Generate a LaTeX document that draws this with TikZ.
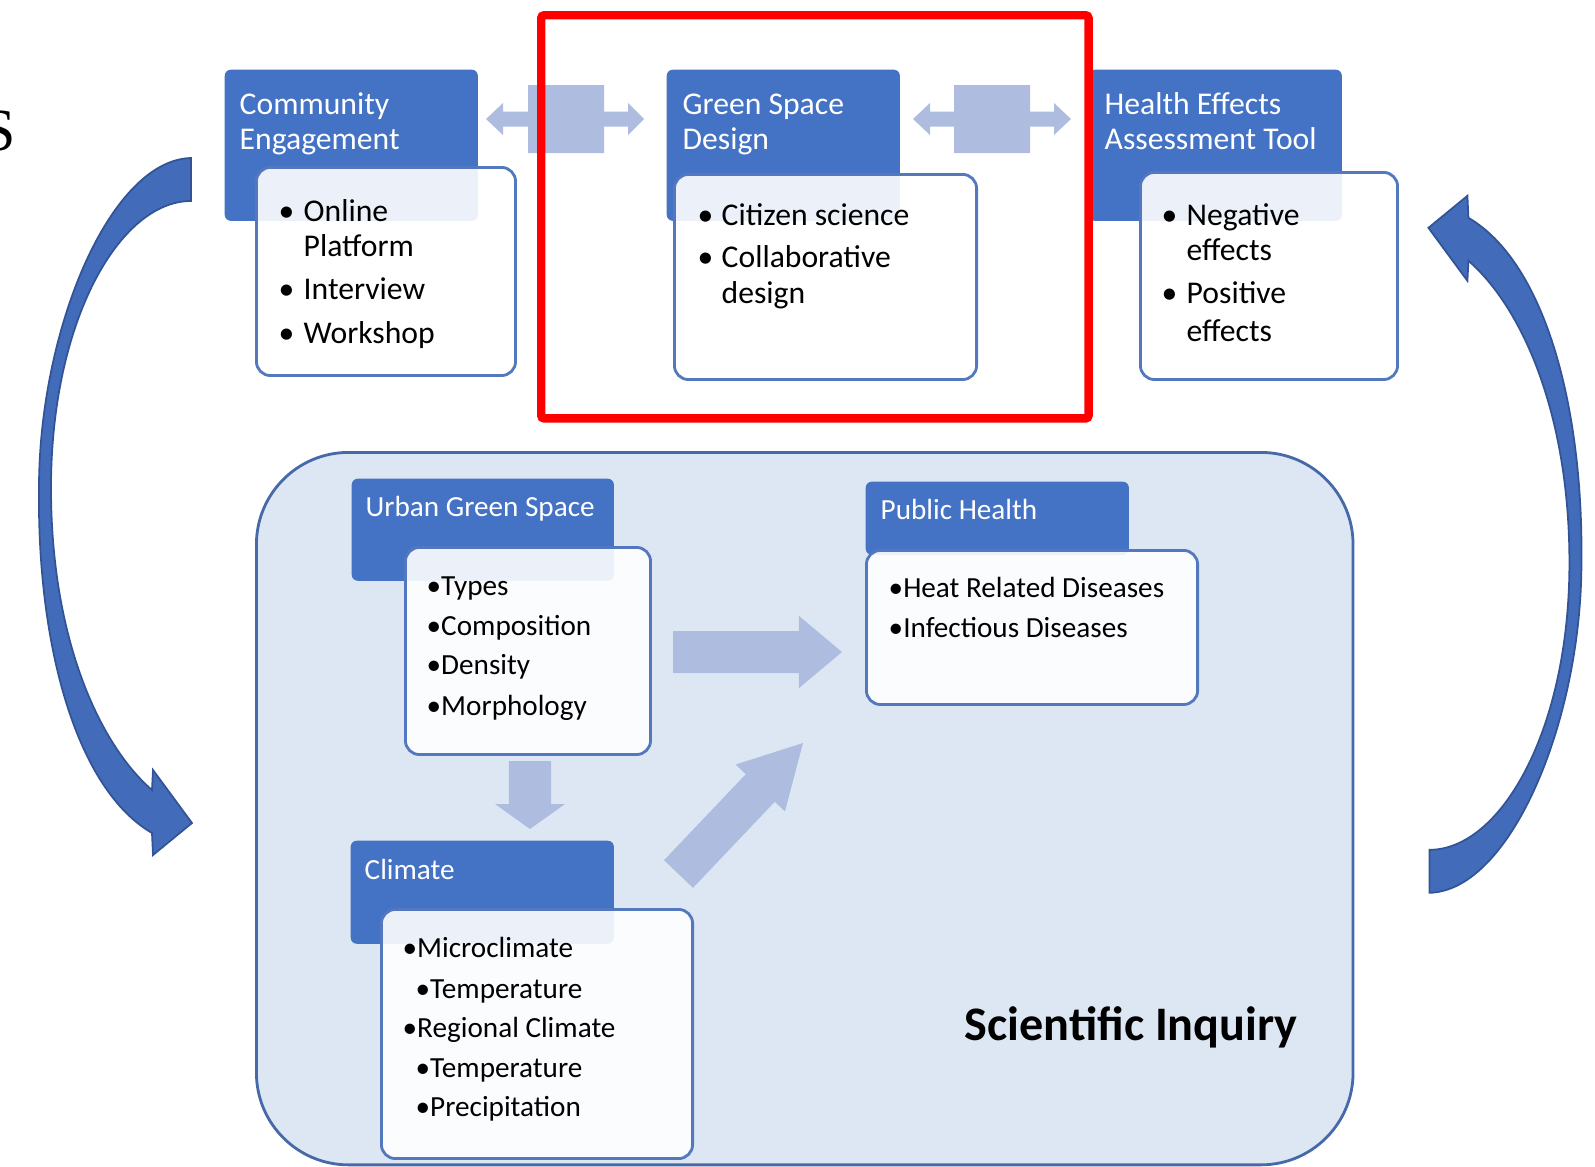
\documentclass[tikz,border=0pt]{standalone}
\usepackage{fontspec}
\setmainfont{Carlito}
\newfontfamily\serifS{Liberation Serif}
\usetikzlibrary{calc}
\definecolor{hdr}{RGB}{68,114,196}
\definecolor{bdr}{RGB}{84,120,190}
\definecolor{inq}{RGB}{221,231,243}
\definecolor{inqb}{RGB}{70,105,170}
\definecolor{larrow}{RGB}{174,188,223}
\definecolor{bigb}{RGB}{66,108,186}
\definecolor{bigbd}{RGB}{50,84,150}
\newcommand\bul[1]{\makebox[#1][l]{\textbullet}}
\newcommand\fatarrow[5]{%
  \coordinate (hb) at ($(#2)!#5!(#1)$);
  \fill[larrow] ($(#1)!#3!90:(#2)$) -- ($(hb)!#3!90:(#2)$) -- ($(hb)!#4!90:(#2)$) -- (#2)
    -- ($(hb)!#4!-90:(#2)$) -- ($(hb)!#3!-90:(#2)$) -- ($(#1)!#3!-90:(#2)$) -- cycle;}
\begin{document}
\begin{tikzpicture}[x=0.01cm,y=-0.01cm,
  hdrbox/.style={rectangle, rounded corners=0.06cm, fill=hdr, anchor=north west, inner sep=0pt},
  cbox/.style={rectangle, rounded corners=0.14cm, fill=white, fill opacity=0.9, draw=bdr, line width=0.8pt, anchor=north west, inner sep=0pt},
  htxt/.style={anchor=base west, inner sep=0pt, text=white, font=\fontsize{9}{10}\selectfont},
  btxt/.style={anchor=base west, inner sep=0pt, font=\fontsize{9}{10}\selectfont},
  lhtxt/.style={anchor=base west, inner sep=0pt, text=white, font=\fontsize{8.3}{10}\selectfont},
  lbtxt/.style={anchor=base west, inner sep=0pt, font=\fontsize{8.3}{10}\selectfont},
  bigarrow/.style={fill=bigb, draw=bigbd, line width=0.5pt}]
\useasboundingbox (0,0) rectangle (1595,1166);

% stray glyph at left edge
\node[anchor=base east, inner sep=0pt, font=\serifS\fontsize{17}{17}\selectfont] (sglyph) at (16,150) {S};

% scientific inquiry container
\node[rectangle, rounded corners=0.92cm, fill=inq, draw=inqb, line width=0.8pt, anchor=north west,
      minimum width=10.96cm, minimum height=7.12cm, inner sep=0pt] (inquiry) at (255,451) {};

% headers
\node[hdrbox, minimum width=2.53cm, minimum height=1.51cm] (hCE) at (224,69) {};
\node[hdrbox, minimum width=2.33cm, minimum height=1.51cm] (hGS) at (666,69) {};
\node[hdrbox, minimum width=2.53cm, minimum height=1.51cm] (hHE) at (1088,69) {};
\node[hdrbox, minimum width=2.62cm, minimum height=1.02cm] (hUG) at (351,478) {};
\node[hdrbox, minimum width=2.63cm, minimum height=0.73cm] (hPH) at (865,481) {};
\node[hdrbox, minimum width=2.63cm, minimum height=1.03cm] (hCL) at (350,840) {};

% content boxes
\node[cbox, minimum width=2.59cm, minimum height=2.08cm] (bCE) at (255,166) {};
\node[cbox, minimum width=3.02cm, minimum height=2.05cm] (bGS) at (673,173) {};
\node[cbox, minimum width=2.57cm, minimum height=2.07cm] (bHE) at (1139,171) {};
\node[cbox, minimum width=2.45cm, minimum height=2.07cm] (bUG) at (404,546) {};
\node[cbox, minimum width=3.31cm, minimum height=1.54cm] (bPH) at (865,549) {};
\node[cbox, minimum width=3.11cm, minimum height=2.49cm] (bCL) at (380,908) {};

% header texts
\node[htxt] (tCE1) at (239,114) {Community};
\node[htxt] (tCE2) at (239,149) {Engagement};
\node[htxt] (tGS1) at (682,114) {Green Space};
\node[htxt] (tGS2) at (682,149) {Design};
\node[htxt] (tHE1) at (1104,114) {Health Effects};
\node[htxt] (tHE2) at (1104,149) {Assessment Tool};
\node[lhtxt] (tUG) at (365,516) {Urban Green Space};
\node[lhtxt] (tPH) at (880,519) {Public Health};
\node[lhtxt] (tCL) at (364,879) {Climate};

% body texts (top)
\node[btxt] (cCE1) at (278,221) {\bul{0.25cm}Online};
\node[btxt] (cCE2) at (303,256) {Platform};
\node[btxt] (cCE3) at (278,299) {\bul{0.25cm}Interview};
\node[btxt] (cCE4) at (278,343) {\bul{0.25cm}Workshop};
\node[btxt] (cGS1) at (697,225) {\bul{0.24cm}Citizen science};
\node[btxt] (cGS2) at (697,267) {\bul{0.24cm}Collaborative};
\node[btxt] (cGS3) at (721,303) {design};
\node[btxt] (cHE1) at (1161,225) {\bul{0.25cm}Negative};
\node[btxt] (cHE2) at (1186,260) {effects};
\node[btxt] (cHE3) at (1161,303) {\bul{0.25cm}Positive};
\node[btxt] (cHE4) at (1186,341) {effects};

% body texts (bottom)
\node[lbtxt] (cUG1) at (426,595) {\textbullet Types};
\node[lbtxt] (cUG2) at (426,635) {\textbullet Composition};
\node[lbtxt] (cUG3) at (426,674) {\textbullet Density};
\node[lbtxt] (cUG4) at (426,715) {\textbullet Morphology};
\node[lbtxt] (cPH1) at (888,597) {\textbullet Heat Related Diseases};
\node[lbtxt] (cPH2) at (888,637) {\textbullet Infectious Diseases};
\node[lbtxt] (cCL1) at (402,957) {\textbullet Microclimate};
\node[lbtxt] (cCL2) at (415,998) {\textbullet Temperature};
\node[lbtxt] (cCL3) at (402,1037) {\textbullet Regional Climate};
\node[lbtxt] (cCL4) at (415,1077) {\textbullet Temperature};
\node[lbtxt] (cCL5) at (415,1116) {\textbullet Precipitation};

\node[anchor=base west, inner sep=0pt, font=\bfseries\fontsize{13.7}{15}\selectfont] (tSI) at (964,1040) {Scientific Inquiry};

% double arrows between top headers
\fill[larrow] (486,119) -- (503,103) -- (503,111.5) -- (528,111.5) -- (528,85) -- (604,85) -- (604,111.5)
  -- (628,111.5) -- (628,103) -- (644,119) -- (628,135) -- (628,126.5) -- (604,126.5) -- (604,153)
  -- (528,153) -- (528,126.5) -- (503,126.5) -- (503,135) -- cycle;
\fill[larrow] (913,119) -- (930,103) -- (930,111.5) -- (954,111.5) -- (954,85) -- (1030,85) -- (1030,111.5)
  -- (1054,111.5) -- (1054,103) -- (1071,119) -- (1054,135) -- (1054,126.5) -- (1030,126.5) -- (1030,153)
  -- (954,153) -- (954,126.5) -- (930,126.5) -- (930,135) -- cycle;

% block arrows inside inquiry
\coordinate (aRs) at (673,652); \coordinate (aRt) at (842,652);
\fatarrow{aRs}{aRt}{0.21cm}{0.36cm}{0.43cm}
\coordinate (aDs) at (530,761); \coordinate (aDt) at (530,829);
\fatarrow{aDs}{aDt}{0.21cm}{0.35cm}{0.25cm}
\coordinate (aGs) at (678.5,874); \coordinate (aGt) at (803,743);
\fatarrow{aGs}{aGt}{0.20cm}{0.34cm}{0.62cm}

% big curved arrows
\fill[bigarrow] (191,158) .. controls (110,160) and (39,330) .. (39,488)
  .. controls (37,650) and (78,790) .. (152,833) -- (153,855) -- (192,823) -- (153,770) -- (152,790)
  .. controls (100,745) and (51,640) .. (51,488) .. controls (51,320) and (120,201) .. (191,201) -- cycle;
\begin{scope}[rotate around={180:(810.2,525.4)}]
\fill[bigarrow] (191,158) .. controls (110,160) and (39,330) .. (39,488)
  .. controls (37,650) and (78,790) .. (152,833) -- (153,855) -- (192,823) -- (153,770) -- (152,790)
  .. controls (100,745) and (51,640) .. (51,488) .. controls (51,320) and (120,201) .. (191,201) -- cycle;
\end{scope}

% red highlight frame
\node[rectangle, draw=red, line width=2.4pt, rounded corners=0.03cm, anchor=north west,
      minimum width=5.47cm, minimum height=4.03cm, inner sep=0pt] (focus) at (537,11) {};
\end{tikzpicture}
\end{document}
